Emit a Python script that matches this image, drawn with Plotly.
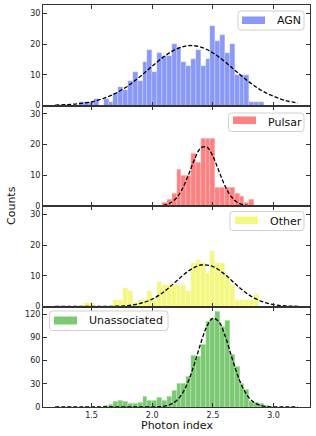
import numpy as np
import plotly.graph_objects as go
from plotly.subplots import make_subplots

# ---------------- data ----------------
bin_start, bin_stop, n_bins = 1.2, 3.2, 50
edges = np.linspace(bin_start, bin_stop, n_bins + 1)
centers = (edges[:-1] + edges[1:]) / 2
bin_width = edges[1] - edges[0]

agn_counts = [0, 0, 0, 0, 0, 1, 1, 1, 2, 0,
              2, 1, 4, 6, 5, 8, 11, 8, 14, 18,
              11, 17, 16, 16, 20, 19, 14, 13, 15, 18,
              13, 15, 26, 21, 23, 17, 20, 10, 10, 10,
              1, 1, 1, 0, 0, 0, 0, 0, 0, 0]
pulsar_counts = [0, 0, 0, 0, 0, 0, 0, 0, 0, 0,
                 0, 0, 0, 0, 0, 0, 0, 0, 0, 0,
                 0, 0, 1, 2, 4, 12, 10, 10, 17, 14,
                 22, 22, 22, 6, 6, 6, 6, 4, 3, 1,
                 2, 0, 0, 0, 0, 0, 0, 0, 0, 0]
other_counts = [0, 0, 0, 0, 0, 0, 1, 1, 0, 0,
                0, 0, 2, 2, 6, 5, 1, 2, 2, 5,
                2, 8, 7, 7, 7, 7, 7, 5, 14, 15,
                14, 11, 18, 14, 14, 10, 7, 2, 2, 2,
                2, 4, 0, 0, 0, 0, 0, 0, 0, 0]
unassoc_counts = [0, 0, 0, 0, 0, 0, 0, 0, 0, 0,
                  2, 3, 7, 8, 7, 4, 5, 6, 14, 8,
                  9, 12, 9, 13, 21, 31, 30, 40, 66, 65,
                  81, 111, 115, 124, 104, 112, 68, 53, 30, 22,
                  7, 6, 4, 2, 1, 0, 0, 0, 0, 0]

# dashed fit curves
agn_curve_x = [1.2, 1.3, 1.4, 1.5, 1.6, 1.7, 1.8, 1.9, 2.0, 2.1, 2.2,
               2.3, 2.4, 2.5, 2.6, 2.7, 2.8, 2.9, 3.0, 3.1, 3.2]
agn_curve_y = [0.1, 0.3, 0.6, 1.2, 2.3, 4.0, 6.4, 9.4, 12.8, 16.0, 18.4,
               19.5, 19.0, 17.1, 14.2, 10.8, 7.6, 4.9, 3.0, 1.6, 0.8]

pulsar_curve_x = [1.2, 1.5, 1.8, 1.9, 2.0, 2.05, 2.1, 2.15, 2.2, 2.25, 2.3,
                  2.35, 2.4, 2.45, 2.5, 2.55, 2.6, 2.65, 2.7, 2.75, 2.8,
                  2.85, 2.9, 3.0, 3.2]
pulsar_curve_y = [0, 0, 0, 0, 0.02, 0.08, 0.3, 1.0, 2.6, 5.7, 10.3,
                  15.3, 18.9, 19.2, 16.2, 11.3, 6.5, 3.1, 1.2, 0.4, 0.1,
                  0.03, 0, 0, 0]

other_curve_x = [1.2, 1.3, 1.4, 1.5, 1.6, 1.7, 1.8, 1.9, 2.0, 2.1, 2.2,
                 2.3, 2.4, 2.5, 2.6, 2.7, 2.8, 2.9, 3.0, 3.1, 3.2]
other_curve_y = [0, 0, 0, 0, 0.02, 0.09, 0.3, 1.0, 2.4, 4.9, 8.3,
                 11.6, 13.5, 13.0, 10.4, 6.8, 3.7, 1.7, 0.6, 0.2, 0.05]

unassoc_curve_x = [1.2, 1.5, 1.8, 1.9, 2.0, 2.05, 2.1, 2.15, 2.2, 2.25, 2.3,
                   2.35, 2.4, 2.45, 2.5, 2.55, 2.6, 2.65, 2.7, 2.75, 2.8,
                   2.85, 2.9, 2.95, 3.0, 3.1, 3.2]
unassoc_curve_y = [0, 0, 0, 0, 0.1, 0.35, 1.1, 3.3, 8.2, 18.0, 34.3,
                   57.0, 82.5, 104.2, 114.7, 110.1, 92.1, 67.2, 42.7, 23.7, 11.4,
                   4.8, 1.8, 0.6, 0.2, 0, 0]

labels = ["AGN", "Pulsar", "Other", "Unassociated"]
x_tick_vals = [1.5, 2.0, 2.5, 3.0]
y_tick_small = [0, 10, 20, 30]
y_tick_big = [0, 30, 60, 90, 120]

# ---------------- styling ----------------
colors = ["rgb(138,153,248)", "rgb(255,128,128)", "rgb(245,248,128)", "rgb(124,201,116)"]
FONT = "DejaVu Sans"
W, H = 316, 436
ML, MR, MT, MB = 43, 6, 5, 29
PW, PH = W - ML - MR, H - MT - MB

counts_all = [agn_counts, pulsar_counts, other_counts, unassoc_counts]
curves_all = [(agn_curve_x, agn_curve_y), (pulsar_curve_x, pulsar_curve_y),
              (other_curve_x, other_curve_y), (unassoc_curve_x, unassoc_curve_y)]

fig = make_subplots(rows=4, cols=1, shared_xaxes=True, vertical_spacing=0)

for i in range(4):
    r = i + 1
    fig.add_trace(go.Bar(x=centers, y=counts_all[i], width=bin_width,
                         marker=dict(color=colors[i],
                                     line=dict(color="rgba(255,255,255,0.55)", width=0.4)),
                         name=labels[i], showlegend=False), row=r, col=1)
    cx, cy = curves_all[i]
    fig.add_trace(go.Scatter(x=cx, y=cy, mode="lines",
                             line=dict(color="black", width=1.3, dash="4px,2px",
                                       shape="spline", smoothing=1.0),
                             showlegend=False, hoverinfo="skip"), row=r, col=1)

axis_common = dict(showline=True, linecolor="#333333", linewidth=1, mirror="ticks",
                   ticks="inside", ticklen=4, tickwidth=1, tickcolor="#333333",
                   showgrid=False, zeroline=False,
                   tickfont=dict(family=FONT, size=8, color="#222222"))

for i in range(4):
    r = i + 1
    fig.update_xaxes(range=[1.1, 3.3], tickvals=x_tick_vals,
                     ticktext=["1.5", "2.0", "2.5", "3.0"], row=r, col=1, **axis_common)
    if i < 3:
        fig.update_yaxes(range=[0, 32.7], tickvals=y_tick_small, row=r, col=1, **axis_common)
    else:
        fig.update_yaxes(range=[0, 130], tickvals=y_tick_big, row=r, col=1, **axis_common)

fig.update_xaxes(showticklabels=True, row=4, col=1)


def px2paper(px, py):
    return (px - ML) / PW, (H - MB - py) / PH


def rounded_path(x0, y0, x1, y1, rad=3):
    def P(x, y):
        a, b = px2paper(x, y)
        return f"{a:.5f},{b:.5f}"
    return (f"M {P(x0 + rad, y0)} L {P(x1 - rad, y0)} Q {P(x1, y0)} {P(x1, y0 + rad)} "
            f"L {P(x1, y1 - rad)} Q {P(x1, y1)} {P(x1 - rad, y1)} "
            f"L {P(x0 + rad, y1)} Q {P(x0, y1)} {P(x0, y1 - rad)} "
            f"L {P(x0, y0 + rad)} Q {P(x0, y0)} {P(x0 + rad, y0)} Z")


# legend boxes (pixel geometry measured on the reference)
legend_geo = [
    ((238, 11, 304, 30), (242, 16.5, 265, 24), 275),
    ((228.5, 113, 304, 131.5), (233, 116.5, 256, 124), 265.5),
    ((230, 211.5, 304, 230.5), (235, 216.5, 258, 224), 267.5),
    ((49.5, 311, 168, 330.5), (54, 316.5, 77, 324.5), 86.5),
]

for i, (box, sw, tx) in enumerate(legend_geo):
    fig.add_shape(type="path", path=rounded_path(*box), xref="paper", yref="paper",
                  line=dict(color="#d0d0d0", width=1), fillcolor="rgba(255,255,255,0.8)",
                  layer="above")
    sx0, sy0 = px2paper(sw[0], sw[1])
    sx1, sy1 = px2paper(sw[2], sw[3])
    fig.add_shape(type="rect", x0=sx0, x1=sx1, y0=sy1, y1=sy0, xref="paper", yref="paper",
                  line=dict(width=0), fillcolor=colors[i], layer="above")
    txp, typ = px2paper(tx, (box[1] + box[3]) / 2)
    fig.add_annotation(x=txp, y=typ, xref="paper", yref="paper", text=labels[i],
                       showarrow=False, xanchor="left", yanchor="middle",
                       font=dict(family=FONT, size=11, color="#111111"))

# axis titles
cx_, cy_ = px2paper(11, (MT + H - MB) / 2)
fig.add_annotation(x=cx_, y=cy_, xref="paper", yref="paper", text="Counts", textangle=-90,
                   showarrow=False, xanchor="center", yanchor="middle",
                   font=dict(family=FONT, size=11, color="#111111"))
lx_, ly_ = px2paper(ML + PW / 2, 425.5)
fig.add_annotation(x=lx_, y=ly_, xref="paper", yref="paper", text="Photon index",
                   showarrow=False, xanchor="center", yanchor="middle",
                   font=dict(family=FONT, size=11, color="#111111"))

fig.update_layout(width=W, height=H, margin=dict(l=ML, r=MR, t=MT, b=MB),
                  paper_bgcolor="white", plot_bgcolor="white", bargap=0,
                  barmode="overlay", showlegend=False,
                  font=dict(family=FONT, size=8, color="#222222"))

fig.write_html("out.html", config={"displayModeBar": False},
               post_script="document.body.style.margin='0px';document.body.style.overflow='hidden';")
